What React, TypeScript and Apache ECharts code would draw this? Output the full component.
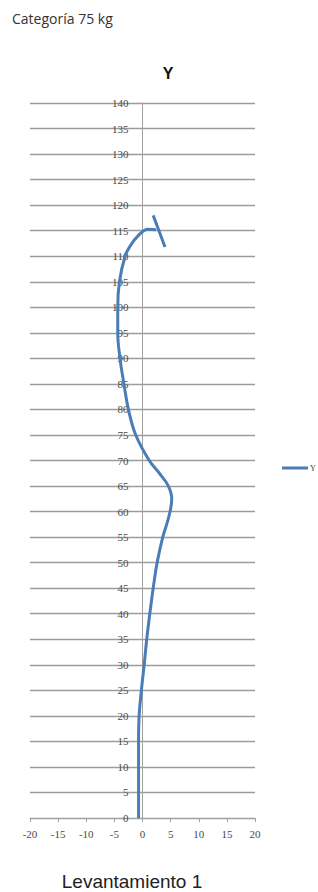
import React, { useEffect, useRef } from "react";
import * as echarts from "echarts";

// Curve values (x = horizontal offset, y = height)
const curveY = [0, 5, 10, 15, 20, 25, 30, 35, 40, 45, 50, 55, 57.5, 60, 62.5, 65, 67.5, 70, 75, 80, 85, 90, 95, 100, 105, 110, 112, 114, 115.3, 115.2];
const curveX = [-0.7, -0.7, -0.7, -0.7, -0.6, -0.2, 0.3, 0.75, 1.3, 1.9, 2.6, 3.6, 4.3, 4.9, 5.2, 4.6, 3.0, 1.2, -1.2, -2.5, -3.3, -4.0, -4.4, -4.4, -4.1, -3.1, -2.2, -0.8, 1.0, 2.4];
// final short stroke at the top
const endX = [1.9, 4.0];
const endY = [118.0, 111.8];

const seriesName = "Y";
const headerText = "Categoría 75 kg";
const chartTitle = "Y";
const captionText = "Levantamiento 1";

export default function App() {
  const ref = useRef<HTMLDivElement>(null);
  useEffect(() => {
    if (!ref.current) return;
    const chart = echarts.init(ref.current, undefined, { renderer: "svg" });
    const data: any[] = curveX.map((x, i) => [x, curveY[i]]);
    data.push(null);
    endX.forEach((x, i) => data.push([x, endY[i]]));
    const gridLeft = 30;
    const gridRight = 63;
    const plotW = 318 - gridLeft - gridRight;
    chart.setOption({
      animation: false,
      backgroundColor: "#ffffff",
      grid: { left: gridLeft, right: gridRight, top: 103, bottom: 74, containLabel: false },
      graphic: [
        {
          type: "text",
          left: 12,
          top: 11,
          style: { text: headerText, fontFamily: "Open Sans", fontSize: 14, fill: "#333333" },
        },
        {
          type: "text",
          x: 168,
          y: 73,
          style: {
            text: chartTitle,
            fontFamily: "Liberation Sans",
            fontWeight: "bold",
            fontSize: 16,
            fill: "#111111",
            align: "center",
            verticalAlign: "middle",
          },
        },
        {
          type: "text",
          x: 132,
          y: 881,
          style: {
            text: captionText,
            fontFamily: "Liberation Sans",
            fontSize: 19,
            fill: "#222222",
            align: "center",
            verticalAlign: "middle",
          },
        },
      ],
      legend: {
        show: true,
        left: 282,
        top: 464,
        padding: 0,
        itemWidth: 26,
        itemHeight: 3,
        icon: "rect",
        data: [seriesName],
        textStyle: { fontSize: 8, color: "#444", fontFamily: "Liberation Serif", padding: [0, 0, 0, -3] },
      },
      xAxis: {
        type: "value",
        min: -20,
        max: 20,
        interval: 5,
        axisLine: { show: true, onZero: false, lineStyle: { color: "#a0a0a0", width: 1 } },
        axisTick: { show: true, inside: false, length: 4, lineStyle: { color: "#a0a0a0" } },
        axisLabel: { margin: 10, fontSize: 11, color: "#4a4a4a", fontFamily: "Liberation Serif" },
        splitLine: { show: false },
      },
      yAxis: {
        type: "value",
        min: 0,
        max: 140,
        interval: 5,
        offset: -plotW / 2,
        axisLine: { show: true, onZero: false, lineStyle: { color: "#a0a0a0", width: 1 } },
        axisTick: { show: false },
        axisLabel: { margin: 14, fontSize: 11, color: "#4a4a4a", fontFamily: "Liberation Serif" },
        splitLine: { show: true, lineStyle: { color: "#9c9c9c", width: 1.3 } },
      },
      series: [
        {
          name: seriesName,
          type: "line",
          data,
          smooth: 0.4,
          connectNulls: false,
          showSymbol: false,
          symbol: "none",
          lineStyle: { color: "#4A7DB5", width: 3 },
          itemStyle: { color: "#4A7DB5" },
        },
      ],
    });
    return () => chart.dispose();
  }, []);
  return (
    <div
      ref={ref}
      style={{ position: "absolute", left: 0, top: 0, width: 318, height: 892, background: "#fff" }}
    />
  );
}
